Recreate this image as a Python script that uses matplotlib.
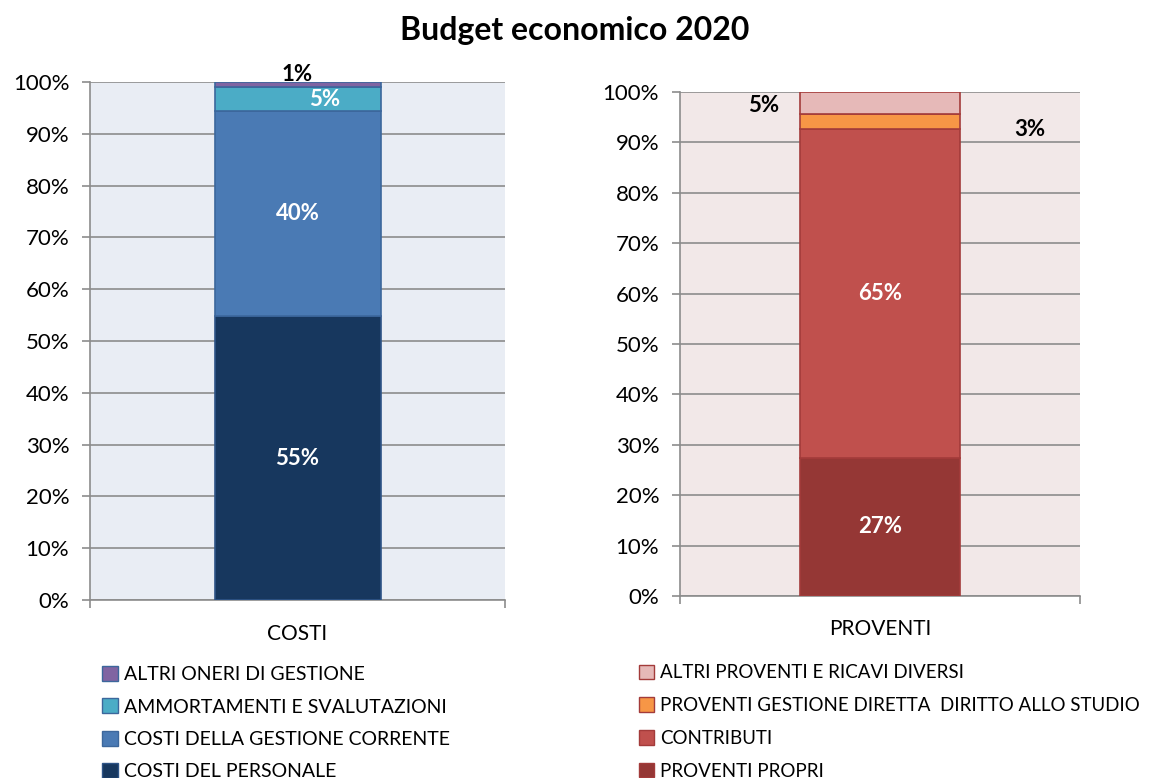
import matplotlib
matplotlib.use("Agg")
import matplotlib.pyplot as plt
from matplotlib.patches import Patch

plt.rcParams['font.family'] = ['Lato', 'DejaVu Sans']

# Costi (bottom to top)
costi_labels = ["COSTI DEL PERSONALE", "COSTI DELLA GESTIONE CORRENTE",
                "AMMORTAMENTI E SVALUTAZIONI", "ALTRI ONERI DI GESTIONE"]
costi_values = [54.8, 39.6, 4.6, 1.0]
costi_text = ["55%", "40%", "5%", "1%"]
costi_colors = ["#17375E", "#4A7AB4", "#4BACC6", "#8064A2"]
costi_edges = ["#2E5487", "#3C679C", "#3C679C", "#3C679C"]

# Proventi (bottom to top)
prov_labels = ["PROVENTI PROPRI", "CONTRIBUTI",
               "PROVENTI GESTIONE DIRETTA  DIRITTO ALLO STUDIO",
               "ALTRI PROVENTI E RICAVI DIVERSI"]
prov_values = [27.4, 65.2, 3.0, 4.4]
prov_text = ["27%", "65%", "3%", "5%"]
prov_colors = ["#953735", "#C0504D", "#F79646", "#E6B9B8"]
prov_edge = "#A33B3A"

yticks = list(range(0, 101, 10))
ytick_labels = [f"{t}%" for t in yticks]

TICK_FS = 16
LABEL_FS = 16

fig = plt.figure(figsize=(11.5, 7.78), dpi=100)
fig.text(0.5, 0.961, "Budget economico 2020", ha="center", va="center",
         fontsize=23, fontweight="bold")


def style_axes(ax, bg, category):
    ax.set_facecolor(bg)
    ax.set_xlim(-0.5, 0.5)
    ax.set_ylim(0, 100)
    ax.set_yticks(yticks)
    ax.set_yticklabels(ytick_labels, fontsize=TICK_FS)
    ax.set_xticks([-0.5, 0.5])
    ax.set_xticklabels(["", ""])
    ax.tick_params(axis="both", direction="out", length=6, color="#8C8C8C",
                   width=1.2, pad=9)
    ax.grid(axis="y", color="#8C8C8C", linewidth=1.2, zorder=0)
    ax.set_axisbelow(True)
    for s in ["top", "right"]:
        ax.spines[s].set_visible(False)
    for s in ["left", "bottom"]:
        ax.spines[s].set_color("#8C8C8C")
        ax.spines[s].set_linewidth(1.2)
    ax.text(0, -6.5, category, transform=ax.transData, ha="center",
            va="center", fontsize=15, clip_on=False)


def label(ax, x, y, s, color):
    ax.text(x, y, s, ha="center", va="center", color=color,
            fontsize=LABEL_FS, fontweight="bold", zorder=4, clip_on=False)


# Left panel: COSTI
axl = fig.add_axes([0.0783, 0.2288, 0.3609, 0.6658])
style_axes(axl, "#E9EDF4", "COSTI")
bottom = 0
for v, c, e in zip(costi_values, costi_colors, costi_edges):
    axl.bar(0, v, width=0.4, bottom=bottom, color=c, edgecolor=e,
            linewidth=1.2, zorder=3)
    bottom += v
cum = [sum(costi_values[:i]) for i in range(len(costi_values))]
label(axl, 0, cum[0] + costi_values[0] / 2, costi_text[0], "white")
label(axl, 0, cum[1] + costi_values[1] / 2, costi_text[1], "white")
label(axl, 0.065, cum[2] + costi_values[2] / 2 - 0.1, costi_text[2], "white")
label(axl, 0.0, cum[3] + costi_values[3] + 1.4, costi_text[3], "black")

# Right panel: PROVENTI
axr = fig.add_axes([0.5913, 0.2339, 0.3478, 0.6478])
style_axes(axr, "#F2E8E8", "PROVENTI")
bottom = 0
for v, c in zip(prov_values, prov_colors):
    axr.bar(0, v, width=0.4, bottom=bottom, color=c, edgecolor=prov_edge,
            linewidth=1.2, zorder=3)
    bottom += v
cum = [sum(prov_values[:i]) for i in range(len(prov_values))]
label(axr, 0, cum[0] + prov_values[0] / 2, prov_text[0], "white")
label(axr, 0, cum[1] + prov_values[1] / 2, prov_text[1], "white")
label(axr, 0.375, cum[2] + prov_values[2] / 2 - 1.5, prov_text[2], "black")
label(axr, -0.29, cum[3] + prov_values[3] / 2 - 0.4, prov_text[3], "black")

# Legends (top segment listed first)
leg_kw = dict(loc="upper left", frameon=False,
              handlelength=0.8, handleheight=0.8, handletextpad=0.3,
              borderaxespad=0, borderpad=0)
handles_l = [Patch(facecolor=c, edgecolor=e, linewidth=1.0)
             for c, e in zip(costi_colors, costi_edges)][::-1]
fig.legend(handles_l, costi_labels[::-1], bbox_to_anchor=(0.089, 0.144),
           fontsize=14, labelspacing=0.78, **leg_kw)
handles_r = [Patch(facecolor=c, edgecolor=prov_edge, linewidth=1.0)
             for c in prov_colors][::-1]
fig.legend(handles_r, prov_labels[::-1], bbox_to_anchor=(0.556, 0.146),
           fontsize=13.5, labelspacing=0.84, **leg_kw)

fig.savefig("out.png", dpi=100)
